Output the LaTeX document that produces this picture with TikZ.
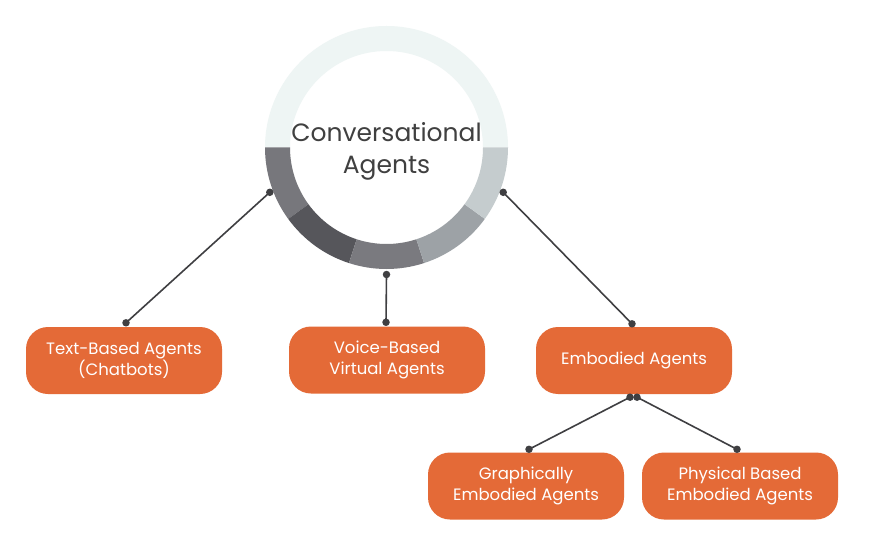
\documentclass[tikz,border=0pt]{standalone}
\usepackage{fontspec}
\setmainfont{Poppins}
\usetikzlibrary{calc}
\definecolor{boxorange}{HTML}{E46A37}
\definecolor{linegray}{HTML}{3F3F42}
\definecolor{segA}{HTML}{EEF5F4}
\definecolor{segB}{HTML}{77777C}
\definecolor{segC}{HTML}{56565B}
\definecolor{segD}{HTML}{7A7A7F}
\definecolor{segE}{HTML}{9DA2A6}
\definecolor{segF}{HTML}{C5CCCE}
\tikzset{
  agent/.style={fill=boxorange, text=white, rounded corners=22pt, minimum width=196pt, minimum height=67pt, align=center, font=\fontsize{16.5}{21}\selectfont, inner sep=0pt},
  conn/.style={draw=linegray, line width=1.6pt},
  dot/.style={circle, fill=linegray, inner sep=0pt, minimum size=7.5pt}
}
\newcommand{\ringseg}[3]{%
  \fill[#3] ($(c)+(#1:121.5)$) arc[start angle=#1, end angle=#2, radius=121.5] -- ($(c)+(#2:96.5)$) arc[start angle=#2, end angle=#1, radius=96.5] -- cycle;}
\begin{document}
\begin{tikzpicture}[x=1pt,y=1pt]
\useasboundingbox[fill=white] (0,0) rectangle (874,536);
\coordinate (c) at (386.5,388.5);
\ringseg{0}{180}{segA}
\ringseg{180}{216}{segB}
\ringseg{216}{252}{segC}
\ringseg{252}{288}{segD}
\ringseg{288}{324}{segE}
\ringseg{324}{360}{segF}
\node[font=\fontsize{25}{32}\selectfont, text=black!75, align=center] (title) at (386.5,385) {Conversational\\Agents};

\node[agent] (tb) at (124,175.5) {Text-Based Agents\\(Chatbots)};
\node[agent] (vb) at (387,176) {Voice-Based\\Virtual Agents};
\node[agent] (em) at (634,175.5) {Embodied Agents};
\node[agent] (ge) at (526,50) {Graphically\\Embodied Agents};
\node[agent] (pe) at (740,50) {Physical Based\\Embodied Agents};

\coordinate (rL) at ($(c)+(201:125)$);
\coordinate (rB) at ($(c)+(270:127)$);
\coordinate (rR) at ($(c)+(339:125)$);
\coordinate (tbT) at ($(tb.north)+(2,4)$);
\coordinate (vbT) at ($(vb.north)+(-1,4)$);
\coordinate (emT) at ($(em.north)+(-2,3)$);
\coordinate (emB1) at ($(em.south)+(-4,-3)$);
\coordinate (emB2) at ($(em.south)+(3,-3)$);
\coordinate (geT) at ($(ge.north)+(3,3)$);
\coordinate (peT) at ($(pe.north)+(-3,3)$);

\draw[conn] (rL) -- (tbT);
\draw[conn] (rB) -- (vbT);
\draw[conn] (rR) -- (emT);
\draw[conn] (emB1) -- (geT);
\draw[conn] (emB2) -- (peT);
\foreach \p in {rL,rB,rR,tbT,vbT,emT,emB1,emB2,geT,peT}
  \node[dot] at (\p) {};
\end{tikzpicture}
\end{document}
